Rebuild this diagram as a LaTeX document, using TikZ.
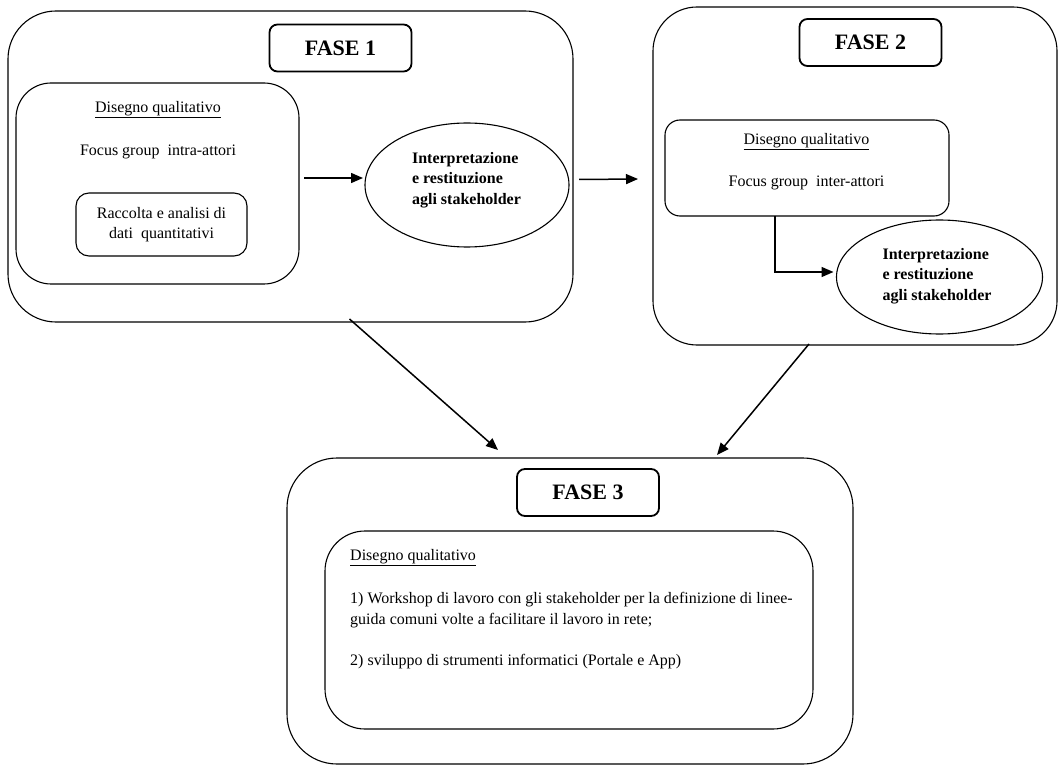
\documentclass[tikz,border=0pt]{standalone}
\usepackage{fontspec}
\setmainfont{Liberation Serif}
\usetikzlibrary{calc,arrows.meta,shapes.geometric}
\begin{document}
\begin{tikzpicture}[x=1pt,y=-1pt,
  txt/.style={font=\fontsize{16}{20.5}\selectfont, inner sep=0pt},
  btxt/.style={font=\fontsize{16}{20.5}\selectfont\bfseries, inner sep=0pt, align=left},
  outerbox/.style={draw, line width=1.1pt, rounded corners=48pt, inner sep=0pt, outer sep=0pt},
  innerbox/.style={draw, line width=1.1pt, inner sep=0pt, outer sep=0pt},
  titlebox/.style={draw, line width=1.8pt, rounded corners=8pt, inner sep=0pt, outer sep=0pt,
    minimum width=142pt, minimum height=47pt, font=\fontsize{22}{26}\selectfont\bfseries},
  ell/.style={draw, ellipse, line width=1.1pt, inner sep=0pt, outer sep=0pt},
  arr/.style={line width=1.5pt, -{Triangle[length=12pt,width=10pt]}}
]
\useasboundingbox (0,0) rectangle (1060,767);

% FASE 1
\node[outerbox, minimum width=565pt, minimum height=311pt] (f1) at (290.5,166.5) {};
\node[titlebox] (t1) at (340.5,48) {FASE 1};
\node[innerbox, rounded corners=35pt, minimum width=283pt, minimum height=201pt] (in1) at (157.5,183.5) {};
\node[txt] (d1) at (158,110) {\underline{Disegno qualitativo}};
\node[txt] (fg1) at (158,152) {Focus group\ \ intra-attori};
\node[innerbox, rounded corners=13pt, minimum width=171pt, minimum height=63pt, txt, align=center] (rac) at (161.5,224.5) {Raccolta e analisi di\\dati\ \ quantitativi};
\node[ell, minimum width=204pt, minimum height=124pt] (e1) at (467,185) {};
\node[btxt] (l1) at (466.5,180) {Interpretazione\\e restituzione\\agli stakeholder};

% FASE 2
\node[outerbox, rounded corners=44pt, minimum width=404pt, minimum height=338pt] (f2) at (855,176) {};
\node[titlebox] (t2) at (870.5,42.5) {FASE 2};
\node[innerbox, rounded corners=15pt, minimum width=284pt, minimum height=96pt] (in2) at (807,168) {};
\node[txt] (d2) at (806.5,142) {\underline{Disegno qualitativo}};
\node[txt] (fg2) at (806.5,183) {Focus group\ \ inter-attori};
\node[ell, minimum width=206pt, minimum height=114pt] (e2) at (939.5,277) {};
\node[btxt] (l2) at (937,276) {Interpretazione\\e restituzione\\agli stakeholder};

% FASE 3
\node[outerbox, rounded corners=50pt, minimum width=566pt, minimum height=306pt] (f3) at (570,611) {};
\node[titlebox] (t3) at (588,492.5) {FASE 3};
\node[innerbox, rounded corners=40pt, minimum width=488pt, minimum height=198pt] (in3) at (569,630) {};
\node[txt, anchor=west] (d3) at (350,558) {\underline{Disegno qualitativo}};
\node[txt, anchor=west, align=left] (p1) at (350,610) {1) Workshop di lavoro con gli stakeholder per la definizione di linee-\\guida comuni volte a facilitare il lavoro in rete;};
\node[txt, anchor=west] (p2) at (350,662) {2) sviluppo di strumenti informatici (Portale e App)};

% connectors
\draw[arr] ($(in1.east)+(5,-5.5)$) -- ($(e1.west)+(-2,-7)$);
\draw[arr] ($(f1.east)+(6,13)$) -- ($(f2.west)+(-15,3)$);
\draw[arr] ($(in2.south)+(-32,0)$) |- ($(e2.west)+(-3,-5)$);
\draw[arr] ($(f1.south)+(59,-3)$) -- ($(f3.north)+(-72,-8)$);
\draw[arr] ($(f2.south)+(-46,-1)$) -- ($(f3.north)+(147,-3)$);
\end{tikzpicture}
\end{document}
